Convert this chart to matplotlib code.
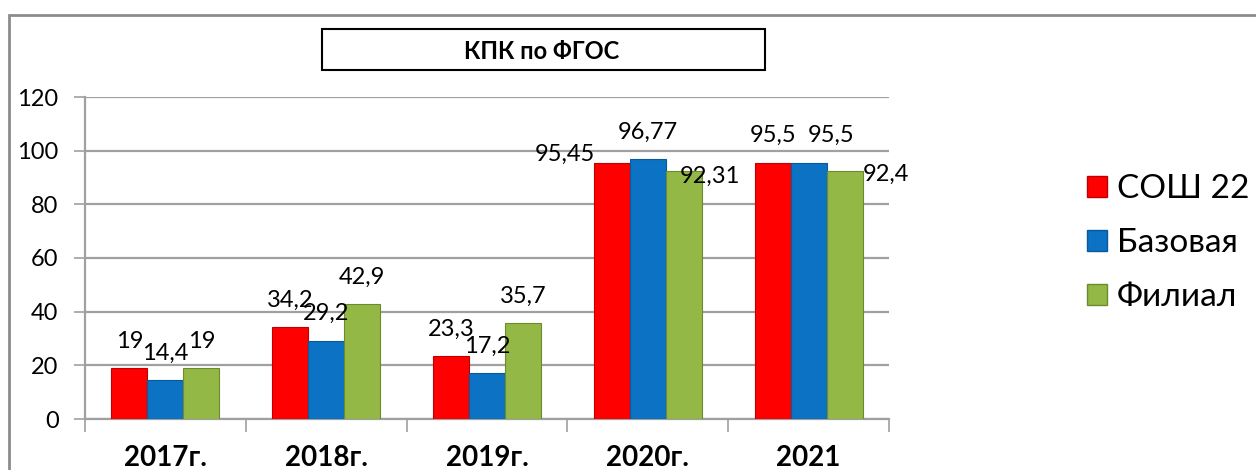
import matplotlib.pyplot as plt
from matplotlib.patches import Patch, Rectangle

# Data
years = ["2017г.", "2018г.", "2019г.", "2020г.", "2021"]
series = ["СОШ 22", "Базовая", "Филиал"]
sosh22 = [19, 34.2, 23.3, 95.45, 95.5]
bazovaya = [14.4, 29.2, 17.2, 96.77, 95.5]
filial = [19, 42.9, 35.7, 92.31, 92.4]
yticks = [0, 20, 40, 60, 80, 100, 120]

# Styles
plt.rcParams['font.family'] = ['Lato', 'DejaVu Sans']
colors = ["#FF0000", "#0B72C4", "#93B845"]
edges = ["#C00000", "#085A9C", "#6E8A2E"]
barW = 0.224

# label nudges (pixels) relative to bar top centre; default is straight above
nudge = {(3, 0): (-47, 9), (3, 2): (26, -5), (4, 1): (22, 27), (4, 2): (41, -3)}


def label(v):
    s = ("%g" % v).replace(".", ",")
    return s


fig = plt.figure(figsize=(12.56, 4.70), dpi=100)
ax = fig.add_axes([85 / 1256, 1 - 419 / 470, (889 - 85) / 1256, (419 - 97) / 470])

x = range(len(years))
for j, vals in enumerate([sosh22, bazovaya, filial]):
    pos = [i + (j - 1) * barW for i in x]
    ax.bar(pos, vals, width=barW, color=colors[j], edgecolor=edges[j],
           linewidth=0.8, zorder=3)
    for i, v in enumerate(vals):
        dx, dy = nudge.get((i, j), (0, 27))
        ax.annotate(label(v), (pos[i], v), xytext=(dx, dy),
                    textcoords='offset pixels', ha='center', va='center',
                    fontsize=17, zorder=4)

ax.set_xlim(-0.5, len(years) - 0.5)
ax.set_ylim(0, 120)
ax.set_yticks(yticks)
ax.yaxis.grid(True, color="#A0A0A0", linewidth=1.6, zorder=0)
ax.tick_params(axis='y', length=8, width=1.2, color="#A0A0A0", pad=11, labelsize=17)

ax.set_xticks([i - 0.5 for i in range(len(years) + 1)])
ax.set_xticklabels([])
ax.set_xticks(list(x), minor=True)
ax.set_xticklabels(years, minor=True, fontsize=20, fontweight='bold')
ax.tick_params(axis='x', which='major', length=9, width=1.2, color="#A0A0A0")
ax.tick_params(axis='x', which='minor', length=0, pad=19)

for s in ['top', 'right']:
    ax.spines[s].set_visible(False)
for s in ['left', 'bottom']:
    ax.spines[s].set_color("#A0A0A0")
    ax.spines[s].set_linewidth(1.6)

# legend
handles = [Patch(facecolor=colors[k], edgecolor=edges[k], label=series[k]) for k in range(3)]
fig.legend(handles=handles, loc='center left', bbox_to_anchor=(1087 / 1256, 1 - 243 / 470),
           frameon=False, fontsize=24, handlelength=0.6, handleheight=0.6,
           handletextpad=0.3, labelspacing=0.72, borderpad=0, borderaxespad=0)

# title box
fig.patches.append(Rectangle((322 / 1256, 1 - 70 / 470), (765 - 322) / 1256, 41 / 470,
                             transform=fig.transFigure, fill=False, edgecolor='black',
                             linewidth=1.5))
fig.text(542 / 1256, 1 - 52 / 470, "КПК по ФГОС", ha='center', va='center',
         fontsize=17, fontweight='bold')

# outer border
fig.patches.append(Rectangle((9 / 1256, -0.05), 1.0, 1 - 15 / 470 + 0.05,
                             transform=fig.transFigure, fill=False, edgecolor="#8C8C8C",
                             linewidth=2))

plt.savefig("out.png", dpi=100)
